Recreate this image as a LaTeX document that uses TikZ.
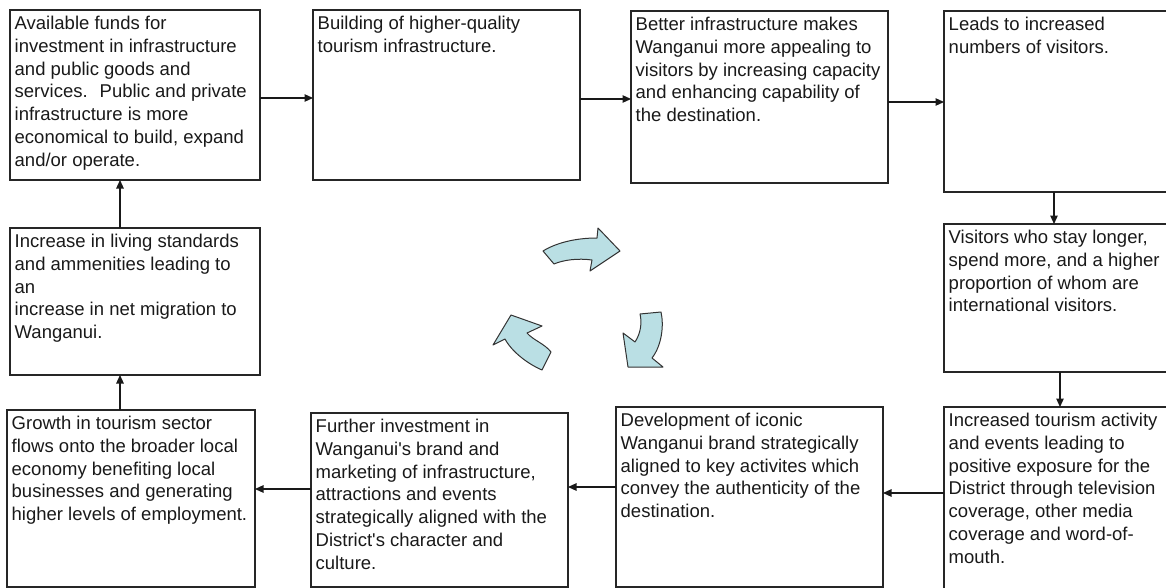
\documentclass[tikz,border=0pt]{standalone}
\usepackage{fontspec}
\setmainfont{Liberation Sans}
\usetikzlibrary{arrows.meta,calc}
\definecolor{cyc}{HTML}{BADFE4}
\newcommand{\apos}{\textquotesingle}
\tikzset{
 box/.style={draw=black!85, line width=1.3pt, anchor=north west, inner sep=0pt, outer sep=0pt},
 txt/.style={anchor=north west, inner sep=0pt, align=left, text=black!90, font=\fontsize{18.5}{22.7}\selectfont},
 conn/.style={line width=1.2pt, draw=black!90, -{Triangle[length=8.5pt,width=7.5pt]}},
 cyca/.style={fill=cyc, draw=black!80, line width=1pt, line join=round}
}
\begin{document}
\begin{tikzpicture}[x=1pt,y=-1pt]
\useasboundingbox (0,0) rectangle (1166,588);
\clip (0,0) rectangle (1166,588);
% boxes
\node[box, minimum width=250pt, minimum height=170pt] (b1) at (10,10) {};
\node[box, minimum width=267pt, minimum height=170pt] (b2) at (313,10) {};
\node[box, minimum width=257pt, minimum height=172pt] (b3) at (631,11) {};
\node[box, minimum width=260pt, minimum height=181pt] (b4) at (944,11) {};
\node[box, minimum width=260pt, minimum height=148pt] (b5) at (944,224) {};
\node[box, minimum width=260pt, minimum height=200pt] (b6) at (944,407) {};
\node[box, minimum width=267pt, minimum height=180pt] (b7) at (616,407) {};
\node[box, minimum width=257pt, minimum height=174pt] (b8) at (311,413) {};
\node[box, minimum width=248pt, minimum height=177pt] (b9) at (7,410) {};
\node[box, minimum width=250pt, minimum height=147pt] (b10) at (10,228) {};
% texts
\node[txt] (t1) at ([shift={(4.5,6.2)}]b1.north west) {Available funds for\\investment in infrastructure\\and public goods and\\services.~ Public and private\\infrastructure is more\\economical to build, expand\\and/or operate.};
\node[txt] (t2) at ([shift={(4.5,6.2)}]b2.north west) {Building of higher-quality\\tourism infrastructure.};
\node[txt] (t3) at ([shift={(4.5,6.2)}]b3.north west) {Better infrastructure makes\\Wanganui more appealing to\\visitors by increasing capacity\\and enhancing capability of\\the destination.};
\node[txt] (t4) at ([shift={(4.5,6.2)}]b4.north west) {Leads to increased\\numbers of visitors.};
\node[txt] (t5) at ([shift={(4.5,6.2)}]b5.north west) {Visitors who stay longer,\\spend more, and a higher\\proportion of whom are\\international visitors.};
\node[txt] (t6) at ([shift={(4.5,6.2)}]b6.north west) {Increased tourism activity\\and events leading to\\positive exposure for the\\District through television\\coverage, other media\\coverage and word-of-\\mouth.};
\node[txt] (t7) at ([shift={(4.5,6.2)}]b7.north west) {Development of iconic\\Wanganui brand strategically\\aligned to key activites which\\convey the authenticity of the\\destination.};
\node[txt] (t8) at ([shift={(4.5,6.2)}]b8.north west) {Further investment in\\Wanganui\apos s brand and\\marketing of infrastructure,\\attractions and events\\strategically aligned with the\\District\apos s character and\\culture.};
\node[txt] (t9) at ([shift={(4.5,6.2)}]b9.north west) {Growth in tourism sector\\flows onto the broader local\\economy benefiting local\\businesses and generating\\higher levels of employment.};
\node[txt] (t10) at ([shift={(4.5,6.2)}]b10.north west) {Increase in living standards\\and ammenities leading to\\an\\increase in net migration to\\Wanganui.};
% connectors
\draw[conn] (b1.east |- 0,98) -- (b2.west |- 0,98);
\draw[conn] (b2.east |- 0,99) -- (b3.west |- 0,99);
\draw[conn] (b3.east |- 0,102) -- (b4.west |- 0,102);
\draw[conn] (1054,0 |- b4.south) -- (1054,0 |- b5.north);
\draw[conn] (1060,0 |- b5.south) -- (1060,0 |- b6.north);
\draw[conn] (b6.west |- 0,493) -- (b7.east |- 0,493);
\draw[conn] (b7.west |- 0,487) -- (b8.east |- 0,487);
\draw[conn] (b8.west |- 0,489) -- (b9.east |- 0,489);
\draw[conn] (120,0 |- b9.north) -- (120,0 |- b10.south);
\draw[conn] (120,0 |- b10.north) -- (120,0 |- b1.south);
% cycle arrows
\draw[cyca] (543,251) .. controls (556,243) and (575,238) .. (597,238) -- (598,228) -- (620,251) -- (590,271) -- (592,260) .. controls (578,258) and (563,260) .. (554,264) -- cycle;
\draw[cyca] (511,315) -- (542,326) -- (527,333) .. controls (533,340) and (545,344) .. (551,352) -- (542,370) .. controls (528,364) and (512,352) .. (505,339) -- (493,345) -- cycle;
\draw[cyca] (640,314) -- (661,312) .. controls (664,325) and (662,345) .. (652,358) -- (663,367) -- (628,367) -- (623,333) -- (635,342) .. controls (641,333) and (642,322) .. (640,314) -- cycle;
\end{tikzpicture}
\end{document}
